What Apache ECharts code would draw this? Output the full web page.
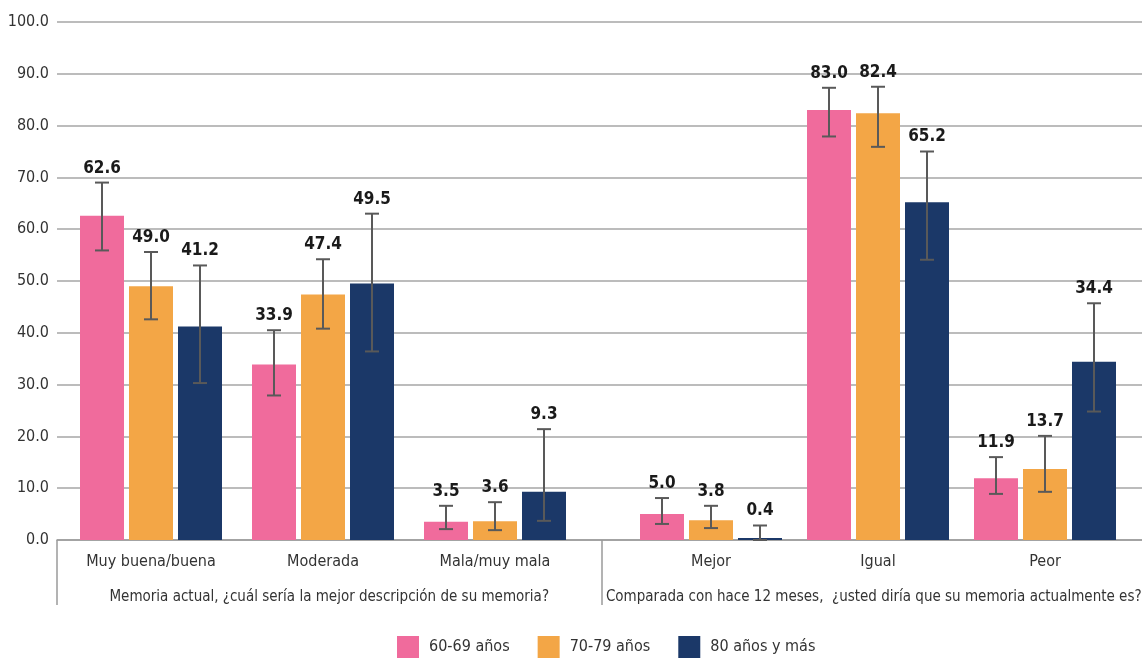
<!DOCTYPE html>
<html>
<head>
<meta charset="utf-8">
<script src="https://cdn.jsdelivr.net/npm/echarts@6/dist/echarts.min.js"></script>
<style>
  html, body { margin: 0; padding: 0; background: #fff; }
  #chart { width: 1142px; height: 663px; }
</style>
</head>
<body>
<div id="chart"></div>
<script>
var FONT = '"Liberation Sans Narrow", "DejaVu Sans Condensed", "Noto Sans", sans-serif'

// categories
var groups = [
  'Memoria actual, ¿cuál sería la mejor descripción de su memoria?',
  'Comparada con hace 12 meses,  ¿usted diría que su memoria actualmente es?'
]
var subCats1 = ['Muy buena/buena', 'Moderada', 'Mala/muy mala']
var subCats2 = ['Mejor', 'Igual', 'Peor']
var seriesNames = ['60-69 años', '70-79 años', '80 años y más']
var yTicks = [0, 10, 20, 30, 40, 50, 60, 70, 80, 90, 100]

// values (six categories, left group first)
var age6069 = [62.6, 33.9, 3.5, 5.0, 83.0, 11.9]
var age7079 = [49.0, 47.4, 3.6, 3.8, 82.4, 13.7]
var age80 = [41.2, 49.5, 9.3, 0.4, 65.2, 34.4]

// confidence intervals
var low6069 = [55.9, 27.9, 2.1, 3.1, 77.9, 8.9]
var high6069 = [69.0, 40.5, 6.6, 8.1, 87.3, 16.0]
var low7079 = [42.6, 40.8, 1.9, 2.3, 75.9, 9.3]
var high7079 = [55.6, 54.2, 7.3, 6.6, 87.5, 20.1]
var low80 = [30.3, 36.4, 3.7, 0.0, 54.1, 24.8]
var high80 = [53.0, 63.0, 21.4, 2.8, 75.0, 45.7]

var colors = ['#F06B9C', '#F3A646', '#1B3868']
var values = [age6069, age7079, age80]
var lows = [low6069, low7079, low80]
var highs = [high6069, high7079, high80]

var BAR_W = 44
var BAR_GAP = 5

var errRender = function(k) {
  return function(params, api) {
    var x = api.coord([api.value(0), 0])[0] + (k - 1) * (BAR_W + BAR_GAP)
    var yLo = api.coord([api.value(0), api.value(1)])[1]
    var yHi = api.coord([api.value(0), api.value(2)])[1]
    var cap = 7
    var st = { stroke: '#595959', lineWidth: 2 }
    return {
      type: 'group',
      children: [
        { type: 'line', shape: { x1: x, y1: yLo, x2: x, y2: yHi }, style: st },
        { type: 'line', shape: { x1: x - cap, y1: yHi, x2: x + cap, y2: yHi }, style: st },
        { type: 'line', shape: { x1: x - cap, y1: yLo, x2: x + cap, y2: yLo }, style: st },
        {
          type: 'text',
          x: x,
          y: yHi - 6,
          style: {
            text: api.value(3).toFixed(1),
            align: 'center',
            verticalAlign: 'bottom',
            fontFamily: FONT,
            fontSize: 17,
            fontWeight: 'bold',
            fill: '#1a1a1a'
          }
        }
      ]
    }
  }
}

var series = []
;[0, 1].forEach(function(g) {
  var from = g * 3
  for (var k = 0; k < 3; k++) {
    series.push({
      name: seriesNames[k],
      type: 'bar',
      xAxisIndex: g + 1,
      yAxisIndex: g + 1,
      barWidth: BAR_W,
      barGap: (BAR_GAP / BAR_W * 100) + '%',
      itemStyle: { color: colors[k] },
      data: values[k].slice(from, from + 3)
    })
  }
  for (var k2 = 0; k2 < 3; k2++) {
    var d = []
    for (var i = 0; i < 3; i++) {
      d.push([i, lows[k2][from + i], highs[k2][from + i], values[k2][from + i]])
    }
    series.push({
      name: 'err' + g + k2,
      type: 'custom',
      xAxisIndex: g + 1,
      yAxisIndex: g + 1,
      z: 5,
      renderItem: errRender(k2),
      data: d
    })
  }
})

var chart = echarts.init(document.getElementById('chart'))
chart.setOption({
  animation: false,
  textStyle: { fontFamily: FONT },
  legend: {
    data: seriesNames,
    bottom: 0,
    left: 392,
    icon: 'rect',
    itemWidth: 22,
    itemHeight: 22,
    itemGap: 28,
    textStyle: { fontSize: 16, color: '#333', fontFamily: FONT, padding: [0, 0, 0, 5] }
  },
  grid: [
    { left: 57, right: -4, top: 22, bottom: 123, outerBoundsMode: 'none' },
    { left: 65, width: 516, top: 22, bottom: 123, outerBoundsMode: 'none' },
    { left: 627.5, width: 501, top: 22, bottom: 123, outerBoundsMode: 'none' }
  ],
  xAxis: [
    {
      type: 'category',
      gridIndex: 0,
      data: groups,
      axisLine: { lineStyle: { color: '#9a9a9a', width: 1.5 } },
      axisTick: { show: true, interval: 0, length: 65, lineStyle: { color: '#9a9a9a', width: 1.5 } },
      axisLabel: { interval: 0, hideOverlap: false, margin: 50, fontSize: 15, color: '#333', fontFamily: FONT }
    },
    {
      type: 'category',
      gridIndex: 1,
      data: subCats1,
      axisLine: { show: false },
      axisTick: { show: false },
      axisLabel: { interval: 0, margin: 14, fontSize: 16, color: '#333', fontFamily: FONT }
    },
    {
      type: 'category',
      gridIndex: 2,
      data: subCats2,
      axisLine: { show: false },
      axisTick: { show: false },
      axisLabel: { interval: 0, margin: 14, fontSize: 16, color: '#333', fontFamily: FONT }
    }
  ],
  yAxis: [
    {
      type: 'value',
      gridIndex: 0,
      min: yTicks[0],
      max: yTicks[yTicks.length - 1],
      interval: 10,
      axisLine: { show: false },
      axisTick: { show: false },
      axisLabel: {
        margin: 8,
        fontSize: 16,
        color: '#333',
        fontFamily: FONT,
        formatter: function(v) { return v.toFixed(1) }
      },
      splitLine: { lineStyle: { color: '#a6a6a6', width: 1.5 } }
    },
    { type: 'value', gridIndex: 1, min: 0, max: 100, show: false, splitLine: { show: false } },
    { type: 'value', gridIndex: 2, min: 0, max: 100, show: false, splitLine: { show: false } }
  ],
  series: series
})
</script>
</body>
</html>
